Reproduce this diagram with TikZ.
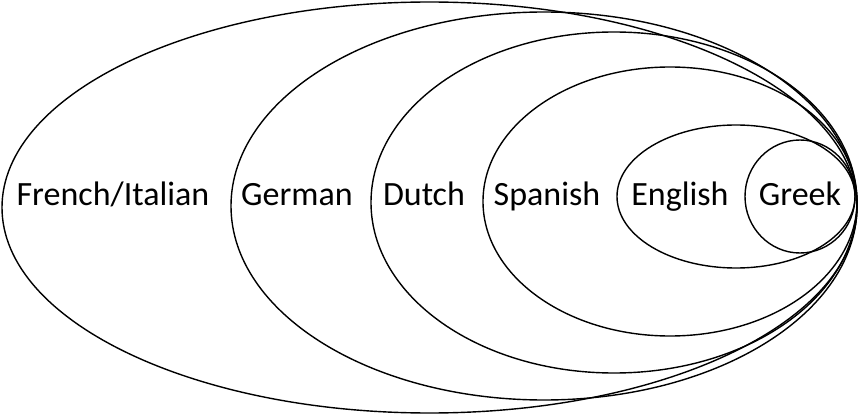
\documentclass[tikz,border=0pt]{standalone}
\usepackage{fontspec}
\setmainfont{Carlito}
\usetikzlibrary{shapes.geometric}
\tikzset{
  ell/.style={draw=black, line width=1.4pt, ellipse, inner sep=0pt, outer sep=0pt},
  lbl/.style={font=\fontsize{34}{38}\selectfont, text=black, inner sep=0pt, anchor=base}
}
\begin{document}
\begin{tikzpicture}[x=1pt,y=-1pt]
\path[use as bounding box, fill=white] (0,0) rectangle (860,417);
\node[ell, minimum width=855pt, minimum height=411pt] (fi) at (429.5,207.5) {};
\node[ell, minimum width=626pt, minimum height=388pt] (ge) at (544,206) {};
\node[ell, minimum width=486pt, minimum height=341pt] (du) at (614,202.5) {};
\node[ell, minimum width=374pt, minimum height=269pt] (sp) at (670,201.5) {};
\node[ell, minimum width=238pt, minimum height=143pt] (en) at (736,196.5) {};
\node[ell, minimum width=110pt, minimum height=113pt] (gr) at (800,196.5) {};
\node[lbl] (tfi) at (113,205) {French/Italian};
\node[lbl] (tge) at (297,205) {German};
\node[lbl] (tdu) at (424,205) {Dutch};
\node[lbl] (tsp) at (547,205) {Spanish};
\node[lbl] (ten) at (680,205) {English};
\node[lbl] (tgr) at (800,205) {Greek};
\end{tikzpicture}
\end{document}
